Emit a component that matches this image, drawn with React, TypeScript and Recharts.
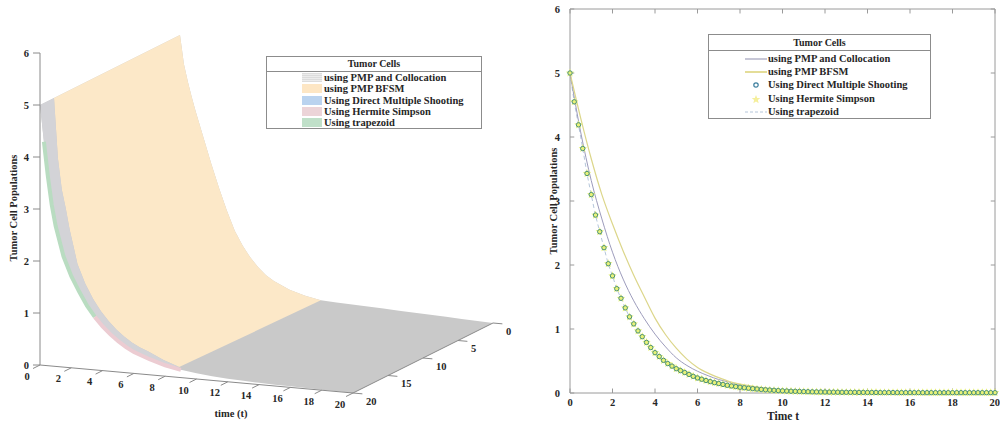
import React from 'react';
import { ComposedChart, Area, Line, Scatter, XAxis, YAxis, ReferenceLine } from 'recharts';

const FONT = '"Liberation Serif", "Times New Roman", serif';

// ---------------- Left panel: 3-D surface (edges) ----------------
const surfaceTimes = [0, 0.25, 0.5, 0.75, 1, 1.5, 2, 2.5, 3, 3.5, 4, 4.5, 5, 5.5, 6, 7, 8, 9, 10, 11, 12, 13, 14, 15, 16, 17, 18, 19, 20];
// depth 20 (front edge)
const frontEdgeValues = [5.0, 4.3, 3.65, 3.1, 2.7, 2.13, 1.76, 1.48, 1.22, 1.02, 0.85, 0.71, 0.59, 0.49, 0.41, 0.3, 0.21, 0.15, 0.11, 0.08, 0.06, 0.045, 0.035, 0.025, 0.02, 0.015, 0.01, 0.005, 0];
// depth 18 (edge between the grey band and the yellow sheet)
const ridgeEdgeValues = [5.0, 3.85, 3.25, 2.9, 2.5, 1.85, 1.48, 1.2, 0.98, 0.8, 0.65, 0.53, 0.43, 0.35, 0.29, 0.15, 0.04, 0.02, 0.01, 0.008, 0.006, 0.005, 0.004, 0.003, 0.002, 0.002, 0.001, 0.001, 0];
// depth 0 (back edge)
const backEdgeValues = [5.0, 4.45, 4.12, 3.83, 3.56, 3.07, 2.58, 2.12, 1.7, 1.33, 1.06, 0.84, 0.67, 0.53, 0.43, 0.29, 0.2, 0.14, 0.127, 0.114, 0.102, 0.089, 0.076, 0.064, 0.051, 0.038, 0.025, 0.013, 0];
const zTicks = [0, 1, 2, 3, 4, 5, 6];
const timeTicks3d = [0, 2, 4, 6, 8, 10, 12, 14, 16, 18, 20];
const depthTicks = [0, 5, 10, 15, 20];

// ---------------- Right panel ----------------
const lineTimes = [0, 0.5, 1, 1.5, 2, 2.5, 3, 3.5, 4, 4.5, 5, 5.5, 6, 6.5, 7, 7.5, 8, 8.5, 9, 9.5, 10, 10.5, 11, 11.5, 12, 12.5, 13, 13.5, 14, 14.5, 15, 15.5, 16, 16.5, 17, 17.5, 18, 18.5, 19, 19.5, 20];
const collocationValues = [5.0, 4.08, 3.32, 2.72, 2.2, 1.78, 1.44, 1.16, 0.92, 0.72, 0.55, 0.43, 0.34, 0.27, 0.21, 0.17, 0.13, 0.1, 0.08, 0.062, 0.048, 0.038, 0.03, 0.024, 0.019, 0.015, 0.012, 0.01, 0.008, 0.007, 0.006, 0.005, 0.005, 0.004, 0.004, 0.004, 0.003, 0.003, 0.003, 0.003, 0.003];
const bfsmValues = [5.0, 4.3, 3.66, 3.1, 2.64, 2.22, 1.84, 1.5, 1.17, 0.91, 0.7, 0.53, 0.4, 0.31, 0.24, 0.18, 0.14, 0.11, 0.085, 0.066, 0.052, 0.041, 0.032, 0.025, 0.02, 0.016, 0.013, 0.01, 0.008, 0.007, 0.006, 0.005, 0.005, 0.004, 0.004, 0.004, 0.003, 0.003, 0.003, 0.003, 0.003];
const markerTimes = [0, 0.2, 0.4, 0.6, 0.8, 1, 1.2, 1.4, 1.6, 1.8, 2, 2.2, 2.4, 2.6, 2.8, 3, 3.2, 3.4, 3.6, 3.8, 4, 4.2, 4.4, 4.6, 4.8, 5, 5.2, 5.4, 5.6, 5.8, 6, 6.2, 6.4, 6.6, 6.8, 7, 7.2, 7.4, 7.6, 7.8, 8, 8.2, 8.4, 8.6, 8.8, 9, 9.2, 9.4, 9.6, 9.8, 10, 10.2, 10.4, 10.6, 10.8, 11, 11.2, 11.4, 11.6, 11.8, 12, 12.2, 12.4, 12.6, 12.8, 13, 13.2, 13.4, 13.6, 13.8, 14, 14.2, 14.4, 14.6, 14.8, 15, 15.2, 15.4, 15.6, 15.8, 16, 16.2, 16.4, 16.6, 16.8, 17, 17.2, 17.4, 17.6, 17.8, 18, 18.2, 18.4, 18.6, 18.8, 19, 19.2, 19.4, 19.6, 19.8, 20];
const directShootingValues = [5.0, 4.55, 4.19, 3.82, 3.43, 3.1, 2.78, 2.52, 2.27, 2.02, 1.83, 1.63, 1.48, 1.33, 1.19, 1.08, 0.97, 0.88, 0.79, 0.71, 0.63, 0.57, 0.51, 0.46, 0.42, 0.38, 0.35, 0.32, 0.29, 0.26, 0.235, 0.215, 0.195, 0.178, 0.162, 0.148, 0.134, 0.12, 0.11, 0.1, 0.09, 0.082, 0.075, 0.068, 0.062, 0.056, 0.05, 0.046, 0.042, 0.038, 0.034, 0.031, 0.028, 0.026, 0.024, 0.022, 0.02, 0.018, 0.017, 0.016, 0.015, 0.014, 0.013, 0.012, 0.011, 0.011, 0.01, 0.01, 0.009, 0.009, 0.008, 0.008, 0.008, 0.007, 0.007, 0.007, 0.007, 0.006, 0.006, 0.006, 0.006, 0.006, 0.006, 0.005, 0.005, 0.005, 0.005, 0.005, 0.005, 0.005, 0.005, 0.005, 0.005, 0.005, 0.005, 0.005, 0.005, 0.005, 0.005, 0.005, 0.005];
const hermiteSimpsonValues = directShootingValues;
const trapezoidValues = directShootingValues;
const xTicks2d = [0, 2, 4, 6, 8, 10, 12, 14, 16, 18, 20];
const yTicks2d = [0, 1, 2, 3, 4, 5, 6];

const legendTitle = 'Tumor Cells';
const legendLabels = ['using PMP and Collocation', 'using PMP BFSM', 'Using Direct Multiple Shooting', 'Using Hermite Simpson', 'Using trapezoid'];

// ---------------- projection of (time, depth, value) onto the flat chart plane ----------------
const T_DY = -1.4 / 52;
const S_DX = 7 / 15.65;
const S_DY = 3.5 / 52;
const proj = (t: number, depth: number, z: number) => {
  const b = 20 - depth;
  return { X: t + S_DX * b, Y: z + T_DY * t + S_DY * b };
};
const edgePts = (vals: number[], depth: number, from: number, to: number) => {
  const out: { X: number; Y: number }[] = [];
  const step = from <= to ? 1 : -1;
  for (let i = from; step > 0 ? i <= to : i >= to; i += step) out.push(proj(surfaceTimes[i], depth, vals[i]));
  return out;
};
const last = surfaceTimes.length - 1;
const i8 = surfaceTimes.indexOf(8);
const i9 = surfaceTimes.indexOf(9);
const i35 = surfaceTimes.indexOf(3.5);
const polys: Record<string, { X: number; Y: number }[]> = {
  base: [...edgePts(frontEdgeValues, 20, 0, last), ...edgePts(backEdgeValues, 0, last, 0), proj(0, 20, frontEdgeValues[0])],
  yellow: [...edgePts(ridgeEdgeValues, 18, 0, i8), ...edgePts(backEdgeValues, 0, i9, 0), proj(0, 18, ridgeEdgeValues[0])],
  band: [...edgePts(frontEdgeValues, 20, 0, i8), ...edgePts(ridgeEdgeValues, 18, i8, 0), proj(0, 20, frontEdgeValues[0])],
  green: edgePts(frontEdgeValues, 20, 1, i35),
  pink: edgePts(frontEdgeValues, 20, i35, i9),
};
const surfaceRows: any[] = [];
Object.keys(polys).forEach((k) => polys[k].forEach((p) => surfaceRows.push({ X: p.X, [k]: p.Y })));

const timeLabelPts = timeTicks3d.map((t) => ({ ...proj(t, 20, 0), label: String(t) }));
const depthLabelPts = depthTicks.map((s) => ({ ...proj(20, s, 0), label: String(s) }));

// ---------------- right panel rows ----------------
const allTimes = Array.from(new Set([...lineTimes, ...markerTimes])).sort((a, b) => a - b);
const rightRows = allTimes.map((t) => {
  const row: any = { t };
  const li = lineTimes.indexOf(t);
  if (li >= 0) {
    row.colloc = collocationValues[li];
    row.bfsm = bfsmValues[li];
  }
  const mi = markerTimes.indexOf(t);
  if (mi >= 0) row.trap = trapezoidValues[mi];
  return row;
});
const dmsPts = markerTimes.map((t, i) => ({ t, v: directShootingValues[i] }));
const hsPts = markerTimes.map((t, i) => ({ t, v: hermiteSimpsonValues[i] }));

const tickStyle = { fontSize: 10.5, fontWeight: 'bold', fill: '#262626', fontFamily: FONT } as any;

const starPath = (cx: number, cy: number, ro: number, ri: number) => {
  let d = '';
  for (let k = 0; k < 10; k++) {
    const r = k % 2 === 0 ? ro : ri;
    const a = -Math.PI / 2 + (k * Math.PI) / 5;
    d += (k === 0 ? 'M' : 'L') + (cx + r * Math.cos(a)).toFixed(2) + ',' + (cy + r * Math.sin(a)).toFixed(2);
  }
  return d + 'Z';
};

const LeftChart = () => (
  <ComposedChart width={540} height={427} data={surfaceRows} margin={{ top: 21.8, right: 30.5, bottom: 15.2, left: 0 }}>
    <XAxis type="number" dataKey="X" domain={[0, 30]} hide />
    <YAxis type="number" domain={[-0.9, 6.6]} ticks={zTicks} width={40} axisLine={false} tickLine={{ stroke: '#8a8a8a' }} tickSize={7} tickMargin={4} tick={tickStyle} />
    <Area dataKey="base" type="linear" stroke="none" fill="#c9c9c9" fillOpacity={1} connectNulls dot={false} activeDot={false} isAnimationActive={false} />
    <Area dataKey="yellow" type="linear" stroke="none" fill="#fce8c8" fillOpacity={1} connectNulls dot={false} activeDot={false} isAnimationActive={false} />
    <Area dataKey="band" type="linear" stroke="none" fill="#d3d3d7" fillOpacity={1} connectNulls dot={false} activeDot={false} isAnimationActive={false} />
    <Line dataKey="green" type="linear" stroke="#b9dcc1" strokeWidth={4} connectNulls dot={false} activeDot={false} isAnimationActive={false} />
    <Line dataKey="pink" type="linear" stroke="#ecccd2" strokeWidth={4} connectNulls dot={false} activeDot={false} isAnimationActive={false} />
    <ReferenceLine segment={[{ x: 0, y: 0 }, { x: 0, y: 6 }]} stroke="#8a8a8a" ifOverflow="visible" />
    <ReferenceLine segment={[proj(0, 20, 0), proj(20, 20, 0)].map((p) => ({ x: p.X, y: p.Y }))} stroke="#8a8a8a" ifOverflow="visible" />
    <ReferenceLine segment={[proj(20, 20, 0), proj(20, 0, 0)].map((p) => ({ x: p.X, y: p.Y }))} stroke="#8a8a8a" ifOverflow="visible" />
    {timeTicks3d.map((t) => (
      <ReferenceLine key={'tt' + t} segment={[proj(t, 20, 0), proj(t, 21, 0)].map((p) => ({ x: p.X, y: p.Y }))} stroke="#8a8a8a" ifOverflow="visible" />
    ))}
    {depthTicks.map((s) => (
      <ReferenceLine key={'dt' + s} segment={[proj(20, s, 0), proj(20.6, s, 0)].map((p) => ({ x: p.X, y: p.Y }))} stroke="#8a8a8a" ifOverflow="visible" />
    ))}
    <Scatter data={timeLabelPts} dataKey="Y" isAnimationActive={false}
      shape={(p: any) => (
        <text x={p.cx - 13} y={p.cy + 11} textAnchor="middle" dominantBaseline="central" fontSize={10.5} fontWeight="bold" fontFamily={FONT} fill="#262626">{p.payload.label}</text>
      )} />
    <Scatter data={depthLabelPts} dataKey="Y" isAnimationActive={false}
      shape={(p: any) => (
        <text x={p.cx + 13} y={p.cy + 8} textAnchor="start" dominantBaseline="central" fontSize={10.5} fontWeight="bold" fontFamily={FONT} fill="#262626">{p.payload.label}</text>
      )} />
  </ComposedChart>
);

const RightChart = () => (
  <ComposedChart width={460} height={427} data={rightRows} margin={{ top: 9, right: 5, bottom: 9, left: 0 }}>
    <XAxis type="number" dataKey="t" domain={[0, 20]} ticks={xTicks2d} height={25} tickSize={0} tickMargin={6} axisLine={{ stroke: '#9a9a9a' }} tickLine={false} tick={tickStyle} />
    <YAxis type="number" domain={[0, 6]} ticks={yTicks2d} width={30} tickSize={0} tickMargin={10} axisLine={{ stroke: '#9a9a9a' }} tickLine={false} tick={tickStyle} />
    <ReferenceLine y={6} stroke="#9a9a9a" />
    <ReferenceLine x={20} stroke="#9a9a9a" />
    {yTicks2d.map((v) => (
      <ReferenceLine key={'yl' + v} segment={[{ x: 0, y: v }, { x: 0.2, y: v }]} stroke="#9a9a9a" ifOverflow="visible" />
    ))}
    {yTicks2d.map((v) => (
      <ReferenceLine key={'yr' + v} segment={[{ x: 19.8, y: v }, { x: 20, y: v }]} stroke="#9a9a9a" ifOverflow="visible" />
    ))}
    {xTicks2d.map((t) => (
      <ReferenceLine key={'xb' + t} segment={[{ x: t, y: 0 }, { x: t, y: 0.07 }]} stroke="#9a9a9a" ifOverflow="visible" />
    ))}
    {xTicks2d.map((t) => (
      <ReferenceLine key={'xt' + t} segment={[{ x: t, y: 6 }, { x: t, y: 5.93 }]} stroke="#9a9a9a" ifOverflow="visible" />
    ))}
    <Line dataKey="trap" type="monotone" stroke="#b5c6da" strokeDasharray="4 3" strokeWidth={1} connectNulls dot={false} activeDot={false} isAnimationActive={false} />
    <Line dataKey="colloc" type="monotone" stroke="#9d9cbc" strokeWidth={1} connectNulls dot={false} activeDot={false} isAnimationActive={false} />
    <Line dataKey="bfsm" type="monotone" stroke="#dcd68a" strokeWidth={1.2} connectNulls dot={false} activeDot={false} isAnimationActive={false} />
    <Scatter data={hsPts} dataKey="v" isAnimationActive={false}
      shape={(p: any) => <path d={starPath(p.cx, p.cy, 4.4, 2)} fill="#e9f277" stroke="none" />} />
    <Scatter data={dmsPts} dataKey="v" isAnimationActive={false}
      shape={(p: any) => <circle cx={p.cx} cy={p.cy} r={2.2} fill="none" stroke="#4a9179" strokeWidth={1} />} />
  </ComposedChart>
);

const leftSwatches = [
  { background: 'repeating-linear-gradient(0deg, #dcdcdc 0px, #dcdcdc 1px, #ececec 1px, #ececec 2px)' },
  { background: '#fde6c4' },
  { background: '#bad3ef' },
  { background: '#ecd4d8' },
  { background: '#c0e0c9' },
];

const RightSample = ({ i }: { i: number }) => (
  <svg width={22} height={10} style={{ display: 'block' }}>
    {i === 0 && <line x1={0} y1={5} x2={22} y2={5} stroke="#8f8fae" strokeWidth={1} />}
    {i === 1 && <line x1={0} y1={5} x2={22} y2={5} stroke="#d8cf6c" strokeWidth={1.4} />}
    {i === 2 && <circle cx={11} cy={5} r={2.2} fill="none" stroke="#3d7f9e" strokeWidth={1.2} />}
    {i === 3 && <path d={starPath(11, 5.5, 4.5, 2)} fill="#f5ef9c" />}
    {i === 4 && <line x1={0} y1={5} x2={22} y2={5} stroke="#b5c6da" strokeWidth={1} strokeDasharray="3 2" />}
  </svg>
);

export default function App() {
  const textBase: React.CSSProperties = { fontFamily: FONT, fontWeight: 'bold', color: '#262626', whiteSpace: 'nowrap' };
  return (
    <div style={{ position: 'absolute', left: 0, top: 0, width: 1000, height: 427, background: '#fff', overflow: 'hidden', fontFamily: FONT }}>
      <div style={{ position: 'absolute', left: 0, top: 0 }}>
        <LeftChart />
      </div>
      <div style={{ position: 'absolute', left: 540, top: 0 }}>
        <RightChart />
      </div>

      {/* axis titles */}
      <div style={{ ...textBase, position: 'absolute', left: 13, top: 208, fontSize: 10.5, transform: 'translate(-50%, -50%) rotate(-90deg)' }}>Tumor Cell Populations</div>
      <div style={{ ...textBase, position: 'absolute', left: 231, top: 413, fontSize: 10.5, transform: 'translate(-50%, -50%)' }}>time (t)</div>
      <div style={{ ...textBase, position: 'absolute', left: 553, top: 201, fontSize: 10.5, transform: 'translate(-50%, -50%) rotate(-90deg)' }}>Tumor Cell Populations</div>
      <div style={{ ...textBase, position: 'absolute', left: 783, top: 416, fontSize: 11.5, transform: 'translate(-50%, -50%)' }}>Time t</div>

      {/* left legend */}
      <div style={{ position: 'absolute', left: 266, top: 56, width: 216, height: 73, border: '1px solid #8c8c8c', boxSizing: 'border-box', background: '#fff' }}>
        <div style={{ ...textBase, height: 14, lineHeight: '14px', borderBottom: '1px solid #8c8c8c', textAlign: 'center', fontSize: 10 }}>{legendTitle}</div>
        {legendLabels.map((lab, i) => (
          <div key={lab} style={{ display: 'flex', alignItems: 'center', height: 11.3 }}>
            <div style={{ marginLeft: 35, width: 20, height: 9, ...leftSwatches[i] }} />
            <div style={{ ...textBase, marginLeft: 2, fontSize: 10.5, lineHeight: '11px' }}>{lab}</div>
          </div>
        ))}
      </div>

      {/* right legend */}
      <div style={{ position: 'absolute', left: 708, top: 34, width: 223, height: 85, border: '1px solid #8c8c8c', boxSizing: 'border-box', background: '#fff' }}>
        <div style={{ ...textBase, height: 15, lineHeight: '15px', borderBottom: '1px solid #8c8c8c', textAlign: 'center', fontSize: 10 }}>{legendTitle}</div>
        <div style={{ height: 1 }} />
        {legendLabels.map((lab, i) => (
          <div key={lab} style={{ display: 'flex', alignItems: 'center', height: 13.4 }}>
            <div style={{ marginLeft: 36 }}><RightSample i={i} /></div>
            <div style={{ ...textBase, marginLeft: 1, fontSize: 10.5, lineHeight: '12px' }}>{lab}</div>
          </div>
        ))}
      </div>
    </div>
  );
}
